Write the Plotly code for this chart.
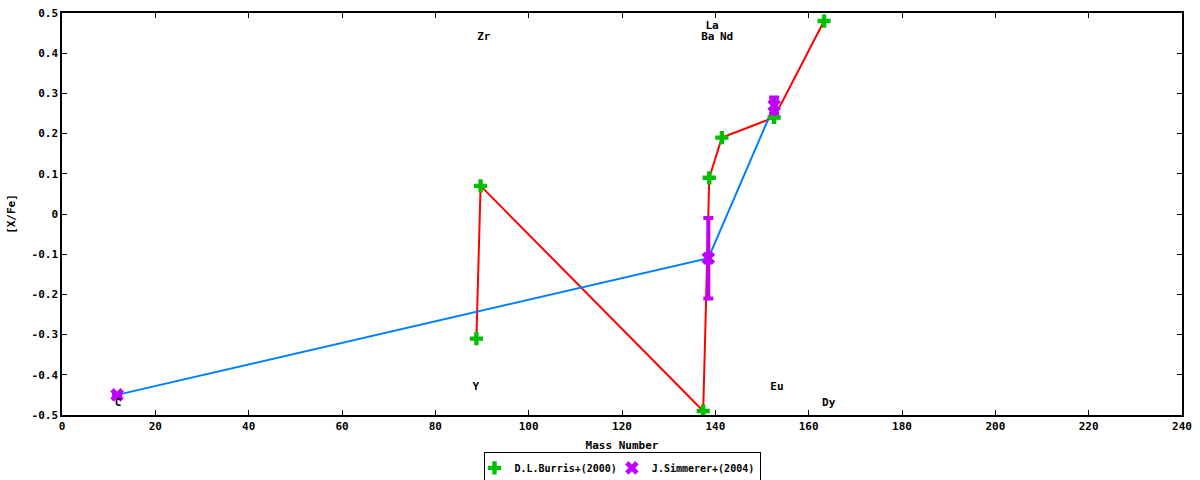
"""
Abundâncias [X/Fe] em função do número de massa
Comparação Burris+(2000) e Simmerer+(2004)
"""

import plotly.graph_objects as go

# Burris+(2000): Y, Zr, Ba, La, Nd, Eu, Dy
burris_mass = [88.8, 89.7, 137.4, 138.7, 141.4, 152.6, 163.3]
burris_xfe = [-0.31, 0.07, -0.49, 0.09, 0.19, 0.24, 0.48]
burris_err = [0, 0, 0, 0, 0, 0, 0]

# Simmerer+(2004): C, Ba, Eu
simmerer_mass = [11.8, 138.5, 152.6]
simmerer_xfe = [-0.45, -0.11, 0.27]
simmerer_err = [0, 0.10, 0.02]

# rótulos dos elementos
label_text = ["C", "Y", "Zr", "Ba", "La", "Nd", "Eu", "Dy"]
label_mass = [12.0, 88.7, 90.4, 138.4, 139.3, 142.4, 153.2, 164.3]
label_xfe = [-0.47, -0.43, 0.439, 0.439, 0.468, 0.439, -0.43, -0.47]

x_ticks = [0, 20, 40, 60, 80, 100, 120, 140, 160, 180, 200, 220, 240]
y_ticks = [-0.5, -0.4, -0.3, -0.2, -0.1, 0, 0.1, 0.2, 0.3, 0.4, 0.5]
y_tick_text = ["-0.5", "-0.4", "-0.3", "-0.2", "-0.1", "0",
               "0.1", "0.2", "0.3", "0.4", "0.5"]

FONTE = dict(family="DejaVu Sans Mono", size=11, color="black", weight="bold")
FONTE_LEG = dict(family="DejaVu Sans Mono", size=10, color="black", weight="bold")

fig = go.Figure()

# linhas de ligação (sem legenda)
fig.add_trace(go.Scatter(x=burris_mass, y=burris_xfe, mode="lines",
                         line=dict(color="#ff0000", width=2),
                         showlegend=False, hoverinfo="skip"))
fig.add_trace(go.Scatter(x=simmerer_mass, y=simmerer_xfe, mode="lines",
                         line=dict(color="#0080ff", width=2),
                         showlegend=False, hoverinfo="skip"))

# pontos com barras de erro
fig.add_trace(go.Scatter(x=burris_mass, y=burris_xfe, mode="markers",
                         name="D.L.Burris+(2000)",
                         marker=dict(symbol="cross", size=11, color="#00c000"),
                         error_y=dict(type="data", array=burris_err, visible=True,
                                      color="#00c000", thickness=3, width=4)))
fig.add_trace(go.Scatter(x=simmerer_mass, y=simmerer_xfe, mode="markers",
                         name="J.Simmerer+(2004)",
                         marker=dict(symbol="x", size=12, color="#c000ff"),
                         error_y=dict(type="data", array=simmerer_err, visible=True,
                                      color="#c000ff", thickness=4, width=5)))

# nomes dos elementos
fig.add_trace(go.Scatter(x=label_mass, y=label_xfe, mode="text",
                         text=label_text, textposition="middle center",
                         textfont=FONTE, showlegend=False, hoverinfo="skip"))

fig.update_layout(
    width=1200, height=480,
    margin=dict(l=62, r=18, t=13, b=65, autoexpand=False),
    plot_bgcolor="white", paper_bgcolor="white",
    font=FONTE,
    legend=dict(orientation="h", x=0.5, xanchor="center", y=-0.093, yanchor="top",
                bordercolor="black", borderwidth=1, bgcolor="white",
                font=FONTE_LEG, itemwidth=30, tracegroupgap=0,
                indentation=-10),
)

fig.update_xaxes(range=[0, 240], tickvals=x_ticks, showgrid=False, zeroline=False,
                 automargin=False,
                 showline=True, linecolor="black", linewidth=1.5, mirror="allticks",
                 ticks="inside", ticklen=5, tickcolor="black",
                 title=dict(text="Mass Number", font=FONTE, standoff=9))
fig.update_yaxes(range=[-0.5, 0.5], tickvals=y_ticks, ticktext=y_tick_text,
                 showgrid=False, zeroline=False, automargin=False,
                 showline=True, linecolor="black", linewidth=1.5, mirror="allticks",
                 ticks="inside", ticklen=5, tickcolor="black",
                 title=dict(text="[X/Fe]", font=FONTE, standoff=14))

# sem margem do body para a figura ocupar a janela inteira
fig.write_html("out.html", config={"displayModeBar": False},
               post_script="document.body.style.margin='0px';")
